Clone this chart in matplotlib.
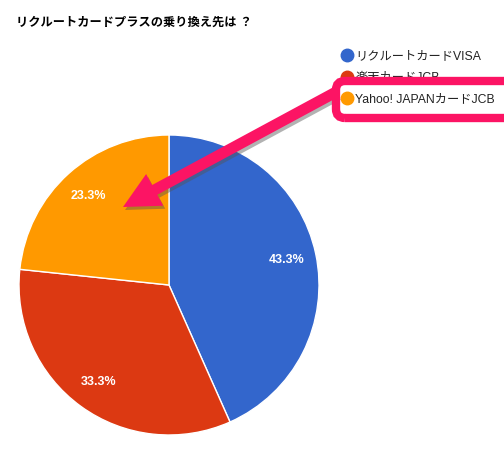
import matplotlib
matplotlib.use("Agg")
import matplotlib.pyplot as plt
from matplotlib.lines import Line2D
from matplotlib.patches import FancyArrow, FancyBboxPatch

plt.rcParams['font.family'] = ['Liberation Sans', 'Noto Sans CJK JP', 'DejaVu Sans']

title = "リクルートカードプラスの乗り換え先は ？"
categories = ["リクルートカードVISA", "楽天カードJCB", "Yahoo! JAPANカードJCB"]
counts = [13, 10, 7]
colors = ["#3366cc", "#dc3912", "#ff9900"]

W, H = 504, 450
fig = plt.figure(figsize=(W / 100, H / 100), dpi=100)
ax = fig.add_axes([0, 0, 1, 1])

def Y(y):
    return H - y

wedges, texts, autotexts = ax.pie(
    counts, colors=colors, startangle=90, counterclock=False,
    center=(169, Y(285)), radius=150, autopct='%1.1f%%', pctdistance=0.8,
    wedgeprops=dict(edgecolor='white', linewidth=1),
    textprops=dict(color='white', fontsize=9, fontweight='bold'),
    frame=True)
ax.set_xlim(0, W)
ax.set_ylim(0, H)
ax.set_aspect('equal')
ax.axis('off')

fig.text(16 / W, 1 - 23 / H, title, fontsize=8.8, fontweight='bold',
         color='#000000', va='center', ha='left')

handles = [Line2D([], [], marker='o', linestyle='none', markersize=9,
                  markerfacecolor=c, markeredgecolor=c) for c in colors]
leg = ax.legend(handles, categories, loc='upper left',
                bbox_to_anchor=(342 / W, 1 - 50 / H), frameon=False,
                fontsize=8.8, handlelength=0.8, handletextpad=0.3,
                labelspacing=0.8, borderaxespad=0, borderpad=0)
for t in leg.get_texts():
    t.set_color('#222222')

pink = '#fc1464'
# annotation box
box = FancyBboxPatch((336, Y(118)), 180, 37,
                     boxstyle='round,pad=0,rounding_size=9',
                     facecolor='none', edgecolor=pink, linewidth=6,
                     zorder=10)
ax.add_patch(box)

# arrow with shadow
x0, y0 = 336, 92
x1, y1 = 123, 207
for dx_off, dy_off, col, alpha, z in [(2, 3, '#555555', 0.45, 9), (0, 0, pink, 1.0, 11)]:
    arr = FancyArrow(x0 + dx_off, Y(y0 + dy_off), (x1 - x0), -(y1 - y0),
                     width=11, head_width=36, head_length=36,
                     length_includes_head=True, color=col, alpha=alpha,
                     linewidth=0, zorder=z)
    ax.add_patch(arr)

fig.savefig('out.png', dpi=100, facecolor='white')
